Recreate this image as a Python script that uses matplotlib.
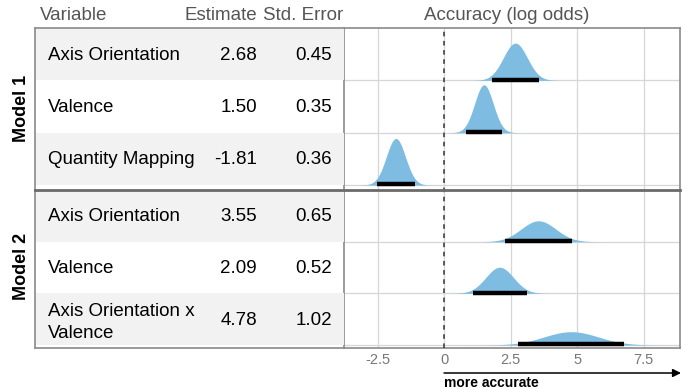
import numpy as np
import matplotlib
matplotlib.use("Agg")
import matplotlib.pyplot as plt
from matplotlib.patches import Rectangle

plt.rcParams['font.family'] = ['Liberation Sans', 'DejaVu Sans']

# ---------------- data ----------------
models = ["Model 1", "Model 2"]
variables_m1 = ["Axis Orientation", "Valence", "Quantity Mapping"]
estimates_m1 = [2.68, 1.50, -1.81]
std_errors_m1 = [0.45, 0.35, 0.36]
variables_m2 = ["Axis Orientation", "Valence", "Axis Orientation x\nValence"]
estimates_m2 = [3.55, 2.09, 4.78]
std_errors_m2 = [0.65, 0.52, 1.02]
x_ticks = [-2.5, 0, 2.5, 5, 7.5]
x_tick_labels = ["-2.5", "0", "2.5", "5", "7.5"]
col_headers = ["Variable", "Estimate", "Std. Error"]
plot_title = "Accuracy (log odds)"
arrow_label = "more accurate"

# ---------------- layout (pixels) ----------------
W, H = 687, 390
tbl_left, tbl_split, plot_right = 35, 344, 680
top, divider, bottom = 28, 190, 348
panels = [dict(top=28, last=185, end=190, scale=42.0),
          dict(top=190, last=345, end=348, scale=34.0)]
blue = "#7EBCE2"
gray_row = "#F2F2F2"
grid_c = "#D6D6D6"
border_c = "#8A8A8A"
head_c = "#555555"

fig = plt.figure(figsize=(W / 100, H / 100), dpi=100)

# plot axes (pixel units on y, data on x)
ax = fig.add_axes([tbl_split / W, (H - bottom) / H,
                   (plot_right - tbl_split) / W, (bottom - top) / H], zorder=1)
ax.set_ylim(bottom, top)
ax.set_xlim(-3.76, 8.87)

# overlay axes in pixel units
ov = fig.add_axes([0, 0, 1, 1], zorder=5)
ov.set_xlim(0, W)
ov.set_ylim(H, 0)
ov.set_axis_off()
ov.patch.set_alpha(0)

data = [(variables_m1, estimates_m1, std_errors_m1),
        (variables_m2, estimates_m2, std_errors_m2)]

for m, (vars_, ests, ses) in enumerate(data):
    p = panels[m]
    rh = (p["last"] - p["top"]) / len(vars_)
    for i, (v, mu, se) in enumerate(zip(vars_, ests, ses)):
        row_top = p["top"] + rh * i
        base = row_top + rh
        # table row
        if i % 2 == 0:
            ov.add_patch(Rectangle((tbl_left, row_top), tbl_split - tbl_left, rh,
                                   facecolor=gray_row, edgecolor="none", zorder=0))
        yc = row_top + rh / 2 + 1
        if "\n" in v:
            ov.text(48, yc + 2, v, ha="left", va="center", fontsize=13.5,
                    color="black", linespacing=1.4)
        else:
            ov.text(48, yc, v, ha="left", va="center", fontsize=13.5, color="black")
        ov.text(257, yc, f"{mu:.2f}", ha="right", va="center", fontsize=13.5, color="black")
        ov.text(332, yc, f"{se:.2f}", ha="right", va="center", fontsize=13.5, color="black")
        # density ridge
        xs = np.linspace(mu - 4 * se, mu + 4 * se, 400)
        pdf = np.exp(-0.5 * ((xs - mu) / se) ** 2) / (se * np.sqrt(2 * np.pi))
        ax.fill_between(xs, base, base - p["scale"] * pdf, color=blue, lw=0, zorder=2)
        ax.axhline(base, color=grid_c, lw=0.9, zorder=0.5)
        lo, hi = mu - 1.96 * se, mu + 1.96 * se
        ax.plot([lo, hi], [base - 0.5, base - 0.5], color="black", lw=3.2,
                solid_capstyle="butt", zorder=3)
    # model label
    ov.text(21, (p["top"] + p["last"]) / 2 + 2 - 3 * m, models[m], rotation=90,
            ha="center", va="center", fontsize=13, fontweight="bold", color="black")

# grid, zero line
ax.set_xticks(x_ticks)
ax.set_xticklabels(x_tick_labels)
ax.grid(axis="x", color=grid_c, lw=0.9, zorder=0)
ax.set_axisbelow(True)
ax.axvline(0, color="#333333", lw=1.1, ls=(0, (3, 3)), zorder=4)
ax.set_yticks([])
ax.tick_params(axis="x", length=0, pad=3.5, labelsize=10.5, labelcolor="#777777")
for s in ax.spines.values():
    s.set_color(border_c)
    s.set_linewidth(1.2)

# table borders
ov.plot([tbl_left, tbl_left], [top, bottom], color=border_c, lw=1.2)
ov.plot([tbl_left, tbl_split], [top, top], color=border_c, lw=1.2)
ov.plot([tbl_left, tbl_split], [bottom, bottom], color=border_c, lw=1.2)
ov.plot([tbl_left, plot_right], [divider, divider], color="#6A6A6A", lw=2.0)

# headers
ov.text(40, 16, col_headers[0], ha="left", va="center", fontsize=13.5, color=head_c)
ov.text(257, 16, col_headers[1], ha="right", va="center", fontsize=13.5, color=head_c)
ov.text(343, 16, col_headers[2], ha="right", va="center", fontsize=13.5, color=head_c)
ov.text(507, 16, plot_title, ha="center", va="center", fontsize=13.5, color=head_c)

# arrow
x0_px = tbl_split + (0 - (-3.76)) / (8.87 + 3.76) * (plot_right - tbl_split)
ov.annotate("", xy=(plot_right + 1, 373), xytext=(x0_px, 373),
            arrowprops=dict(arrowstyle="-|>", color="black", lw=1.1,
                            mutation_scale=12, shrinkA=0, shrinkB=0))
ov.text(x0_px, 383, arrow_label, ha="left", va="center", fontsize=10,
        fontweight="bold", color="black")

fig.savefig("out.png", dpi=100)
